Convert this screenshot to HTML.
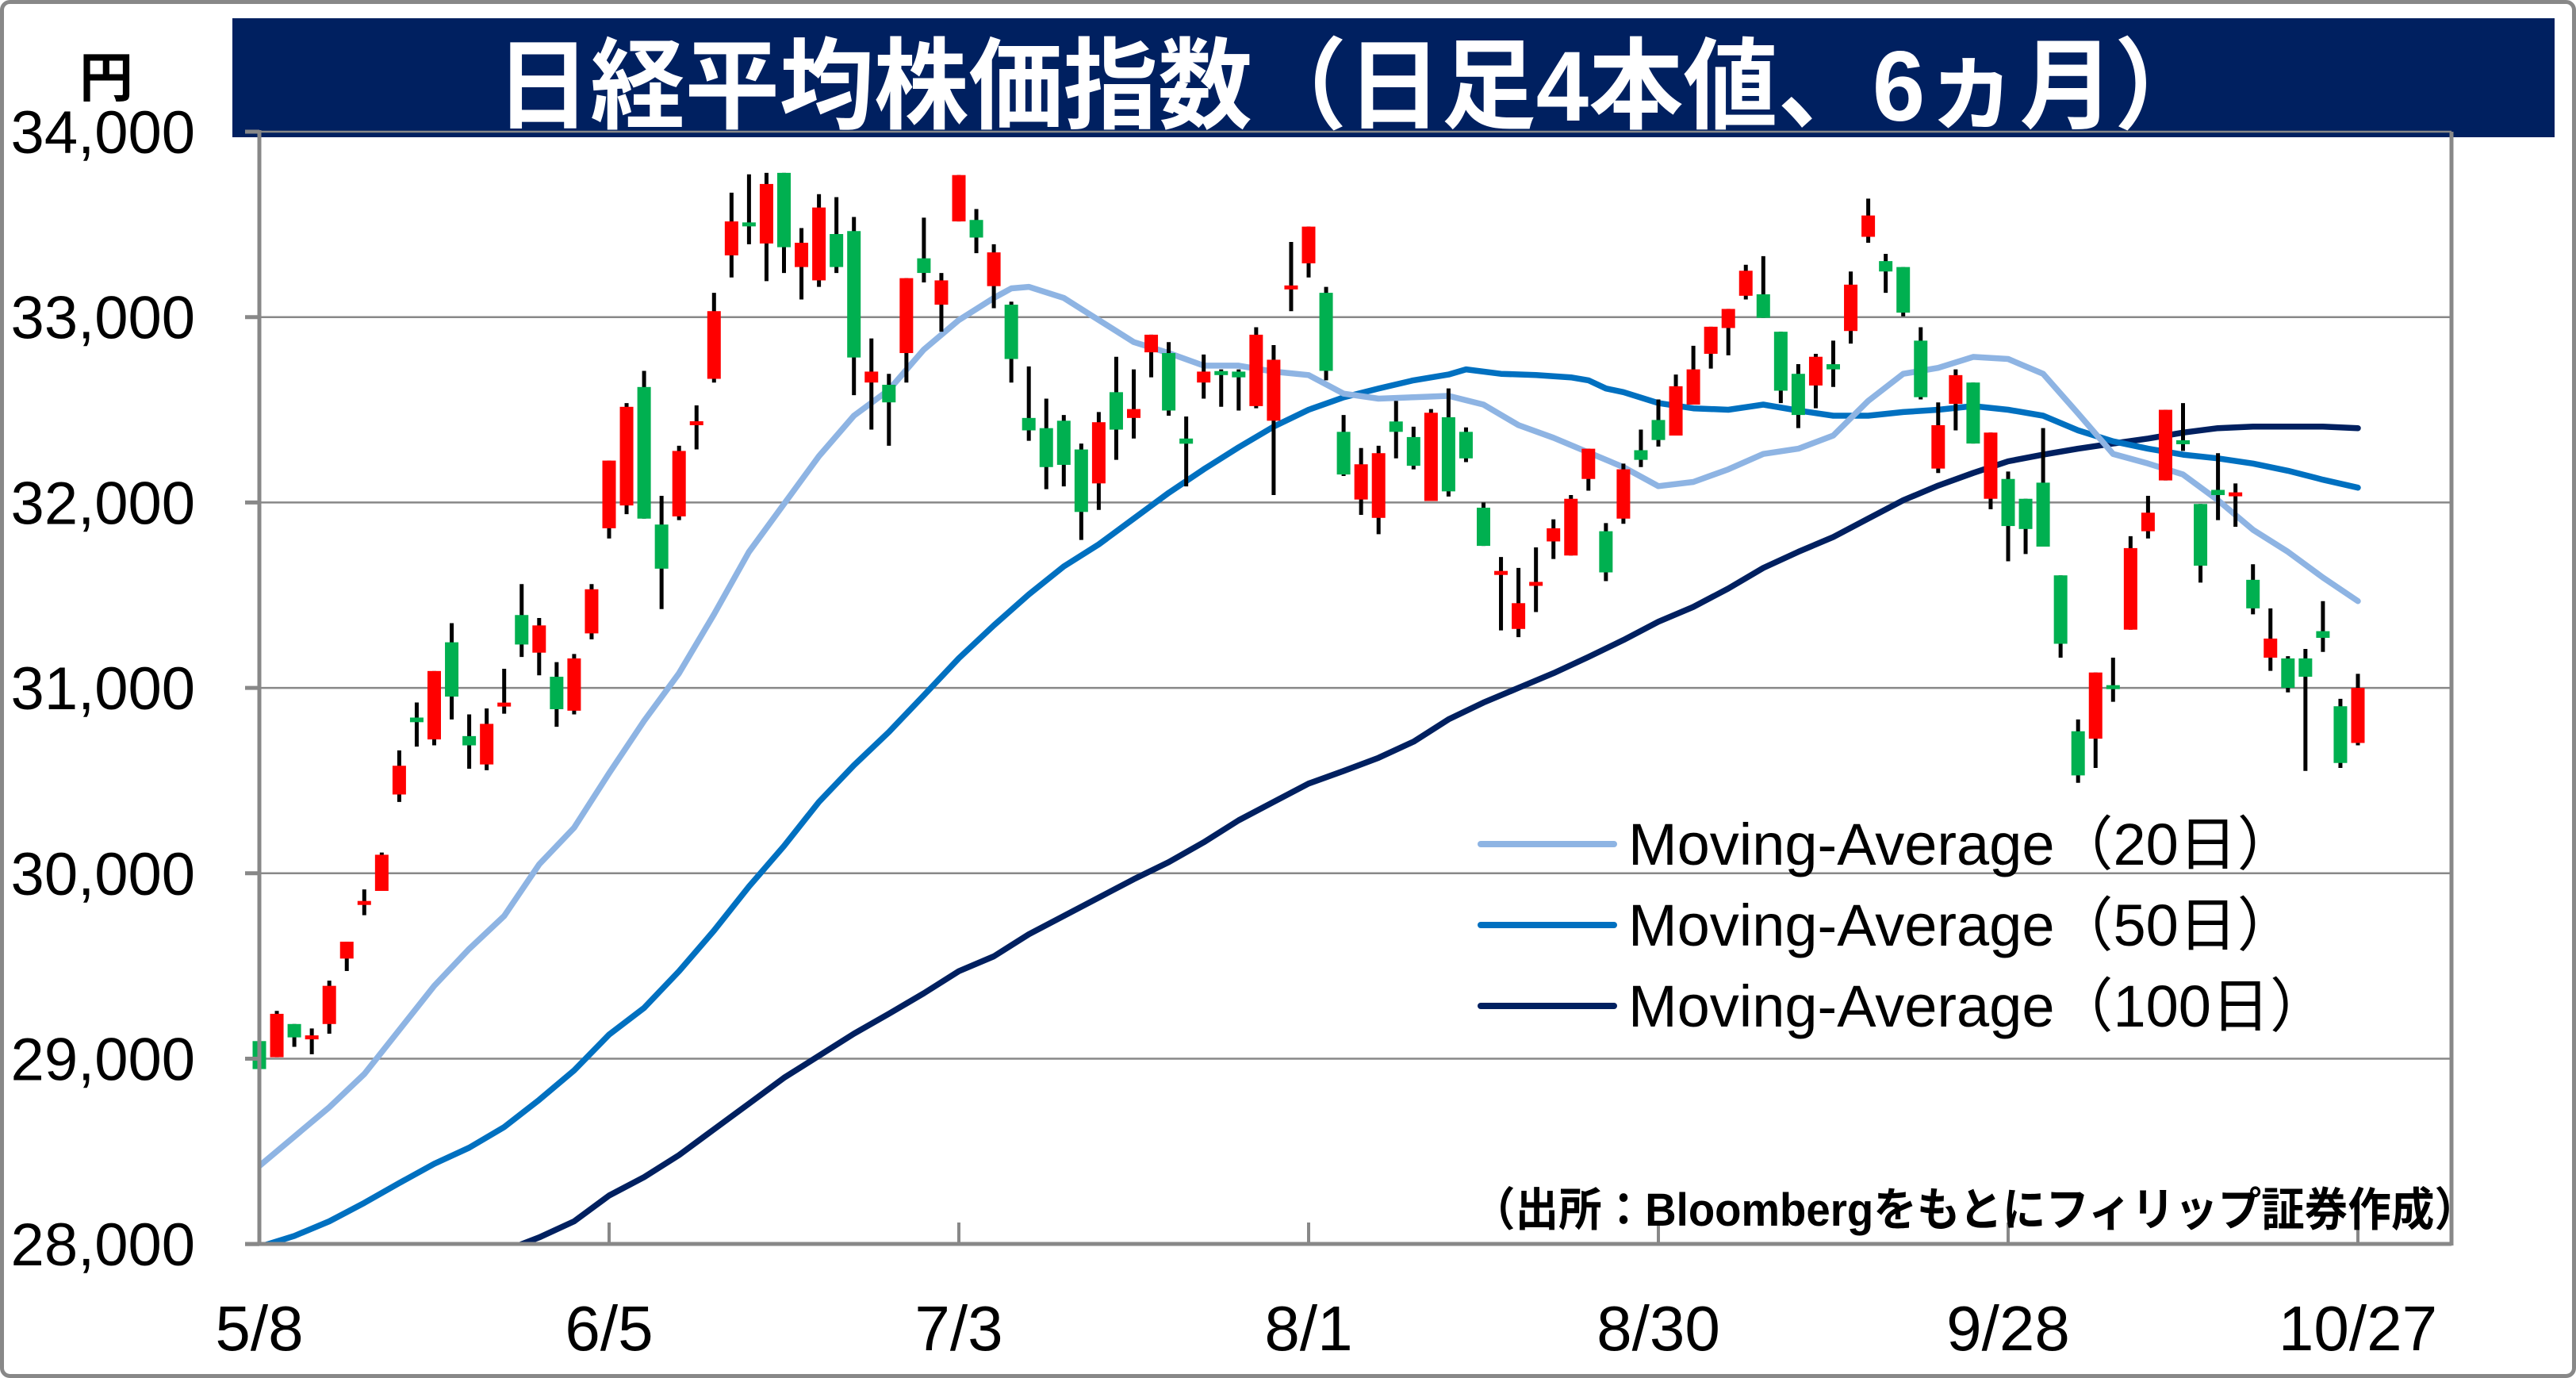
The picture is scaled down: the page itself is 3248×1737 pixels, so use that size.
<!DOCTYPE html>
<html><head><meta charset="utf-8"><style>
html,body{margin:0;padding:0;background:#fff;}
svg{display:block;}
</style></head><body>
<svg id="chart" width="3248" height="1737" viewBox="0 0 3248 1737" xmlns="http://www.w3.org/2000/svg" font-family="'Liberation Sans','Noto Sans CJK JP',sans-serif">
<rect x="2.5" y="2.5" width="3243" height="1732" rx="10" fill="#fff" stroke="#888" stroke-width="5"/>
<rect x="293" y="23" width="2928" height="150" fill="#002060"/>
<text x="625" y="152" fill="#fff" font-size="125" font-weight="bold" textLength="2160" lengthAdjust="spacingAndGlyphs">日経平均株価指数（日足4本値、6ヵ月）</text>
<text x="134" y="122" font-size="68" font-weight="bold" text-anchor="middle">円</text>
<defs><clipPath id="plotclip"><rect x="327" y="166" width="2764" height="1402"/></clipPath></defs>
<g id="grid"></g>
<g id="ma" clip-path="url(#plotclip)"></g>
<g id="candles"></g>
<g id="axes"></g>
<g>
<line x1="1867" y1="1064" x2="2035" y2="1064" stroke="#8eb4e3" stroke-width="8" stroke-linecap="round"/>
<text x="2053" y="1090" font-size="74">Moving-Average（20日）</text>
<line x1="1867" y1="1166" x2="2035" y2="1166" stroke="#0070c0" stroke-width="8" stroke-linecap="round"/>
<text x="2053" y="1192" font-size="74">Moving-Average（50日）</text>
<line x1="1867" y1="1268" x2="2035" y2="1268" stroke="#002060" stroke-width="8" stroke-linecap="round"/>
<text x="2053" y="1294" font-size="74">Moving-Average（100日）</text>
</g>
<text x="3124" y="1545" font-size="58" font-weight="bold" text-anchor="end" textLength="1268" lengthAdjust="spacingAndGlyphs">（出所：Bloombergをもとにフィリップ証券作成）</text>
</svg>
<script>
const opens=[29095,29008,29187,29110,29187,29540,29835,29905,30425,30840,30722,31246,30740,30587,30905,31393,31190,31060,30877,31294,31861,31984,32623,31881,31925,32420,32667,33333,33505,33397,33778,33270,33198,33448,33464,32647,32635,32806,33317,33067,33516,33524,33167,33067,32456,32401,32441,32286,32103,32595,32456,32810,32806,32345,32647,32706,32706,32520,32441,33150,33290,33131,32381,32016,31917,32437,32353,32008,32460,32381,31972,31615,31318,31555,31790,31714,32127,31845,31913,32282,32445,32361,32528,32802,32941,33115,33123,32921,32694,32631,32746,32925,33433,33302,33270,32873,32183,32532,32647,32020,32127,32020,32107,31607,30766,30726,31008,31314,31845,32119,32333,31992,32068,32040,31583,31163,31159,31159,31306,30901,30703];
const highs=[29135,29258,29187,29163,29421,29631,29913,30112,30663,30921,31091,31349,30857,30889,31103,31560,31377,31139,31183,31560,32226,32536,32710,32036,32306,32524,33131,33671,33770,33778,33778,33480,33663,33647,33540,32885,32694,33210,33536,33238,33766,33583,33393,33083,32734,32560,32472,32318,32488,32786,32718,32905,32865,32464,32798,32718,32718,32945,32849,33405,33488,33163,32472,32294,32306,32548,32409,32504,32615,32405,32000,31706,31647,31758,31909,32040,32290,31889,32210,32393,32556,32690,32845,32948,33044,33282,33329,32921,32746,32802,32873,33246,33639,33341,33270,32945,32540,32718,32647,32377,32167,32020,32401,31607,30830,31083,31163,31818,32036,32500,32536,31992,32266,32103,31667,31429,31171,31210,31468,30941,31076];
const lows=[28929,29008,29064,29024,29135,29473,29774,29905,30385,30683,30690,30830,30564,30556,30861,31167,31068,30790,30857,31262,31806,31937,31913,31425,31905,32286,32647,33214,33393,33194,33238,33095,33163,33238,32579,32393,32306,32647,33187,32921,33516,33345,33048,32647,32333,32072,32087,31798,31960,32230,32345,32675,32468,32087,32560,32516,32496,32508,32040,33032,33214,32659,32143,31933,31829,32238,32179,32008,32032,32218,31766,31310,31274,31409,31695,31714,32064,31576,31885,32191,32302,32361,32528,32722,32794,33095,32996,32536,32401,32508,32623,32857,33401,33131,33004,32556,32159,32389,32318,31964,31683,31722,31762,31163,30488,30568,30925,31314,31806,32119,32278,31568,31905,31869,31397,31092,30976,30552,31194,30568,30690];
const closes=[28944,29242,29115,29120,29393,29631,29845,30100,30580,30815,31091,30953,30690,30806,30915,31234,31337,30885,31159,31532,32226,32516,31913,31643,32278,32435,33032,33516,33495,33718,33377,33401,33591,33270,32782,32706,32540,33210,33238,33198,33766,33429,33349,32774,32389,32191,32203,31949,32433,32393,32504,32905,32496,32317,32706,32690,32675,32905,32770,33170,33488,32710,32151,32206,32266,32381,32198,32484,32060,32238,31766,31625,31457,31567,31861,32020,32290,31623,32179,32230,32337,32627,32718,32948,33044,33250,32996,32603,32472,32786,32718,33175,33548,33246,33024,32568,32417,32687,32318,32377,31873,31857,31762,31238,30528,31083,31000,31754,31945,32500,32317,31659,32040,32048,31429,31266,31000,31060,31270,30595,31000];
const ma20Idx=[0,2,4,6,8,10,12,14,16,18,20,22,24,26,28,30,32,34,36,38,40,42,43,44,46,48,50,52,54,56,58,60,62,64,66,68,70,72,74,76,78,80,82,84,86,88,90,92,94,96,98,100,102,104,106,108,110,112,114,116,118,120];
const ma20Val=[28421,28580,28738,28917,29155,29393,29592,29770,30048,30246,30540,30822,31079,31397,31734,31992,32250,32468,32607,32825,32984,33103,33155,33163,33103,32984,32865,32806,32738,32738,32706,32687,32587,32560,32568,32575,32528,32417,32349,32270,32191,32088,32111,32179,32262,32290,32361,32548,32694,32726,32785,32774,32694,32480,32262,32210,32151,32012,31853,31734,31595,31468];
const ma50Idx=[0,2,4,6,8,10,12,14,16,18,20,22,24,26,28,30,32,34,36,38,40,42,44,46,48,50,52,54,56,58,60,62,64,66,68,69,71,73,75,76,77,78,80,82,84,86,88,90,92,94,96,98,100,102,104,106,108,110,112,114,116,118,120];
const ma50Val=[27985,28044,28123,28222,28329,28433,28520,28631,28778,28937,29130,29274,29472,29691,29929,30147,30385,30583,30762,30960,31160,31337,31504,31655,31774,31913,32052,32179,32298,32409,32500,32567,32615,32659,32690,32718,32694,32687,32675,32659,32615,32595,32536,32508,32500,32528,32496,32468,32468,32488,32500,32520,32500,32468,32389,32330,32290,32258,32238,32210,32171,32123,32080];
const ma100Idx=[13,15,16,18,20,22,24,26,28,30,32,34,36,38,40,42,44,46,48,50,52,54,56,58,60,62,64,66,68,70,72,74,76,78,80,82,84,86,88,90,92,94,96,98,100,102,104,106,108,110,112,114,116,118,120];
const ma100Val=[27880,28000,28036,28123,28262,28361,28480,28619,28758,28897,29016,29135,29242,29353,29472,29552,29671,29770,29869,29968,30060,30167,30286,30385,30484,30552,30623,30710,30830,30921,31000,31079,31167,31258,31357,31437,31536,31647,31734,31814,31913,32012,32091,32159,32222,32258,32290,32318,32345,32377,32401,32409,32409,32409,32401];
const yTicks=[28000,29000,30000,31000,32000,33000,34000];
const yTickLabels=["28,000","29,000","30,000","31,000","32,000","33,000","34,000"];
const xTickIdx=[0,20,40,60,80,100,120];
const xTickLabels=["5/8","6/5","7/3","8/1","8/30","9/28","10/27"];

const NS="http://www.w3.org/2000/svg";
const X0=327,DX=22.05,Y0=166,YMAX=34000,PPU=0.2337;
function xs(i){return X0+i*DX;}
function ys(p){return Y0+(YMAX-p)*PPU;}
function mk(tag,attrs,parent){const e=document.createElementNS(NS,tag);for(const k in attrs)e.setAttribute(k,attrs[k]);parent.appendChild(e);return e;}

const grid=document.getElementById('grid');
const axes=document.getElementById('axes');
const svg=document.getElementById('chart');
yTicks.forEach((v,k)=>{
  const y=ys(v);
  if(v!==28000){
    const g=mk('line',{x1:X0,x2:3091,y1:y,y2:y,stroke:'#888','stroke-width':2.5},grid);
    
    
  }
  const tk=mk('line',{x1:X0-18,x2:X0,y1:y,y2:y,stroke:'#888','stroke-width':5},axes);
  
  
  const t=mk('text',{x:246,y:y+27,'font-size':76,'text-anchor':'end'},svg);
  t.textContent=yTickLabels[k];
  
  
});
const rb=mk('line',{x1:3091,x2:3091,y1:Y0,y2:1570,stroke:'#888','stroke-width':5},axes);


const ya=mk('line',{x1:X0,x2:X0,y1:Y0-2,y2:1570,stroke:'#888','stroke-width':5},axes);


const xa=mk('line',{x1:X0-18,x2:3091,y1:1568,y2:1568,stroke:'#888','stroke-width':5},axes);


xTickIdx.forEach((i,k)=>{
  const x=xs(i);
  const tk=mk('line',{x1:x,x2:x,y1:1541,y2:1568,stroke:'#888','stroke-width':4},axes);
  
  
  const t=mk('text',{x:x,y:1702,'font-size':80,'text-anchor':'middle'},svg);
  t.textContent=xTickLabels[k];
  
  
});

const ma=document.getElementById('ma');
function drawMA(idx,val,color,name){
  const pts=idx.map((i,k)=>xs(i).toFixed(1)+','+ys(val[k]).toFixed(1)).join(' ');
  const pl=mk('polyline',{points:pts,fill:'none',stroke:color,'stroke-width':7.5,'stroke-linejoin':'round','stroke-linecap':'round'},ma);
  
  
}
drawMA(ma100Idx,ma100Val,'#002060','ma100-line');
drawMA(ma50Idx,ma50Val,'#0070c0','ma50-line');
drawMA(ma20Idx,ma20Val,'#8eb4e3','ma20-line');

const cg=document.getElementById('candles');
opens.forEach((o,i)=>{
  const c=closes[i],h=highs[i],l=lows[i];
  const x=xs(i);
  const up=c>=o;
  const g=mk('g',{},cg);
  
  
  const w=mk('line',{x1:x,x2:x,y1:ys(h),y2:ys(l),stroke:'#000','stroke-width':5},g);
  
  
  let top=ys(Math.max(o,c)),bot=ys(Math.min(o,c));
  if(bot-top<5){const m=(top+bot)/2;top=m-2.5;bot=m+2.5;}
  const b=mk('rect',{x:x-8.5,y:top,width:17,height:bot-top,fill:up?'#ff0000':'#00b050'},g);
  
  
});
</script>
</body></html>
